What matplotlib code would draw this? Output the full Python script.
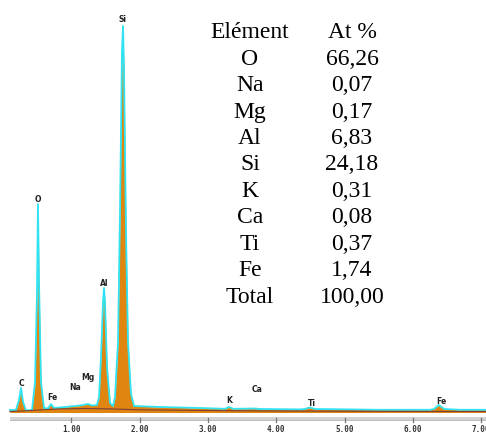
import matplotlib
matplotlib.use("Agg")
import matplotlib.pyplot as plt

# ---- data ----
energy_keV = [0.10, 0.190, 0.234, 0.264, 0.293, 0.337, 0.425, 0.469, 0.498, 0.512, 0.527,
              0.556, 0.600, 0.659, 0.703, 0.747, 0.835, 0.981, 1.127, 1.245, 1.303, 1.376,
              1.406, 1.435, 1.464, 1.479, 1.493, 1.523, 1.567, 1.611, 1.640, 1.684, 1.713,
              1.742, 1.757, 1.772, 1.801, 1.830, 1.874, 1.918, 2.299, 2.884, 3.25, 3.31,
              3.37, 3.69, 3.76, 4.35, 4.42, 4.49, 4.57, 5.52, 6.25, 6.31, 6.38, 6.46, 6.69, 7.10]
counts = [20, 20, 120, 240, 100, 15, 20, 300, 1200, 2080, 1300,
          300, 40, 35, 80, 40, 45, 55, 65, 80, 65, 70,
          150, 550, 1100, 1240, 1100, 450, 90, 60, 150, 700, 2000,
          3600, 3860, 3400, 1800, 700, 180, 60, 50, 40, 32, 50,
          32, 35, 30, 26, 30, 45, 30, 22, 22, 30, 70, 30, 22, 22]
background_energy = [0.10, 0.40, 0.80, 1.20, 1.60, 2.00, 3.00, 4.00, 5.00, 6.00, 7.10]
background_counts = [5, 15, 30, 35, 30, 22, 15, 10, 8, 6, 5]

peak_names = ["C", "O", "Fe", "Na", "Mg", "Al", "Si", "K", "Ca", "Ti", "Fe"]
peak_energy = [0.265, 0.51, 0.72, 1.05, 1.24, 1.48, 1.755, 3.31, 3.72, 4.52, 6.42]
peak_label_counts = [290, 2130, 150, 250, 350, 1280, 3920, 120, 230, 90, 110]

tick_values = [1, 2, 3, 4, 5, 6, 7]
tick_labels = ["1.00", "2.00", "3.00", "4.00", "5.00", "6.00", "7.00"]

elements = ["Elément", "O", "Na", "Mg", "Al", "Si", "K", "Ca", "Ti", "Fe", "Total"]
at_percent = ["At %", "66,26", "0,07", "0,17", "6,83", "24,18", "0,31", "0,08", "0,37", "1,74", "100,00"]

# ---- figure ----
W, H = 486, 444
fig = plt.figure(figsize=(W / 100, H / 100), dpi=100)
ax = fig.add_axes([0, 0, 1, 1])
ax.set_xlim(-3 / 68.3, (W - 3) / 68.3)
ax.set_ylim(-320, 4120)
ax.axis("off")

# axis bar
ax.fill_between([0.10, 7.2], -50, -80, color="#d4d4d4", lw=0)
ax.plot([0.10, 7.2], [-80, -80], color="#b0b0b0", lw=0.6)
for t, lab in zip(tick_values, tick_labels):
    ax.plot([t, t], [-60, -95], color="#777777", lw=0.9)
    ax.text(t, -170, lab, ha="center", va="center", fontsize=5.5,
            fontweight="bold", color="#333333", family="DejaVu Sans Mono")

# spectrum
ax.fill_between(energy_keV, -5, counts, color="#E0850F", lw=0, zorder=2)
ax.plot(energy_keV, counts, color="#2FE3F2", lw=1.3, zorder=3)
ax.plot(background_energy, background_counts, color="#7a3f3a", lw=0.8, zorder=4)

for name, e, c in zip(peak_names, peak_energy, peak_label_counts):
    ax.text(e, c, name, ha="center", va="center", fontsize=5.5, fontweight="bold",
            color="#222222", zorder=5)

# composition table
row_y0, row_dy = 33, 26.4
for i, (el, val) in enumerate(zip(elements, at_percent)):
    y = 1 - (row_y0 + i * row_dy) / H
    fig.text(250 / W, y, el, ha="center", va="center", fontsize=17,
             family="Liberation Serif", color="black")
    fig.text(352 / W, y, val, ha="center", va="center", fontsize=17,
             family="Liberation Serif", color="black")

fig.savefig("out.png", dpi=100)
